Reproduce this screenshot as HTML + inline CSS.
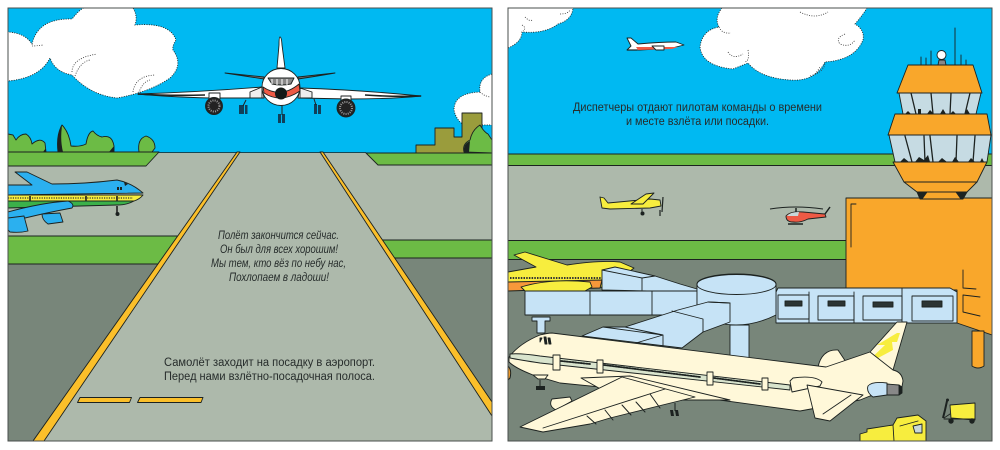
<!DOCTYPE html>
<html lang="ru">
<head>
<meta charset="utf-8">
<title>Аэропорт</title>
<style>
html,body{margin:0;padding:0;background:#fff;width:1000px;height:450px;overflow:hidden}
svg{display:block}
text{font-family:"Liberation Sans",sans-serif;fill:#262c2b}
.o{stroke:#1c2220;stroke-width:.9;stroke-linejoin:round;stroke-linecap:round}
.cl{fill:#fff;stroke:#222;stroke-width:.9;stroke-dasharray:1 1.4}
.d{fill:none;stroke:#333;stroke-width:.8;stroke-dasharray:1 1.4}
.b{fill:#c6e3f6}
.c{fill:#fff8d9}
.or{fill:#f9a72b}
</style>
</head>
<body>
<svg width="1000" height="450" viewBox="0 0 1000 450" xmlns="http://www.w3.org/2000/svg">
<defs>
<clipPath id="L"><rect x="8" y="8" width="484" height="433"/></clipPath>
<clipPath id="R"><rect x="508" y="8" width="484" height="433"/></clipPath>
</defs>

<!-- LEFT PANEL -->
<g clip-path="url(#L)">
<rect x="8" y="8" width="484" height="433" fill="#adb9ab"/>
<rect x="8" y="8" width="484" height="145" fill="#00b9f2"/>
<path class="cl" d="M8,81 L8,32 Q25,33 32,44 Q38,18 72,19 Q80,9 84,8 L133,8 Q138,16 135,25 Q170,22 176,40 Q172,46 173,50 Q184,65 170,78 Q150,92 117,98 Q90,95 72,75 Q55,72 50,58 Q40,78 8,81Z"/>
<path class="d" d="M72,72 Q72,58 97,54 M75,76 Q80,62 90,60 M133,92 Q135,76 155,75 M138,95 Q142,82 150,80 M32,46 Q36,46 43,45"/>
<path class="cl" d="M492,74 Q478,78 480,92 Q454,93 454,110 Q456,120 464,125 L492,125Z"/>
<path class="d" d="M480,92 Q484,96 490,97"/>

<!-- building -->
<path class="o" fill="#9a9c3c" d="M416,153 V145 H435 V128 H454 V137 H462 V113 H482 V153Z"/>

<!-- bushes -->
<path class="o" fill="#6cbb45" d="M8,152 V134 L13,135 L16,140 Q20,134 26,134 Q31,137 32,144 Q40,137 45,143 L46,152Z"/>
<path class="o" fill="#6cbb45" d="M58,152 Q56,135 62,125 Q69,132 71,146 Q80,147 86,144 Q88,132 93,131 Q97,136 102,137 Q112,134 114,146 L114,152Z"/>
<path fill="#1c2220" d="M58,152 Q56,135 62,126 Q60,140 63,152Z M109,152 L114,146 V152Z M43,152 L46,148 V152Z"/>
<path class="o" fill="#6cbb45" d="M139,152 Q137,139 146,136 Q155,139 155,148 L152,152Z"/>
<path class="o" fill="#6cbb45" d="M464,152 Q462,144 470,140 Q472,130 480,125 Q484,132 488,134 L492,140 V153Z"/>
<path fill="#1c2220" d="M464,152 Q463,144 470,141 L469,152Z"/>

<!-- grass -->
<path class="o" fill="#6cbb45" d="M8,152 H159 L146,166 H8Z"/>
<path class="o" fill="#6cbb45" d="M366,153 H492 V165 H378Z"/>
<path class="o" fill="#6cbb45" d="M8,236 H178 L158,264 H8Z"/>
<path class="o" fill="#6cbb45" d="M380,240 H492 V258 H393Z"/>
<path class="o" fill="#78867a" d="M8,264 H159 L33,441 H8Z"/>
<path class="o" fill="#78867a" d="M392,258 H492 V402 Z"/>
<line x1="159" y1="152.5" x2="366" y2="152.5" stroke="#1c2220" stroke-width=".8"/>

<!-- runway lines -->
<path class="o" fill="#fbbf2a" d="M237,152 H240 L44,441 H33Z"/>
<path class="o" fill="#fbbf2a" d="M320,152 H323 L492,402 V416Z"/>
<path class="o" fill="#fbbf2a" d="M80,397.5 H131.5 L129.5,402.5 H77.5Z"/>
<path class="o" fill="#fbbf2a" d="M140,397.5 H203 L201,402.5 H137.5Z"/>

<!-- blue plane -->
<path class="o" fill="#2bb0ef" d="M15,172 L27,172 L52,184 Q85,184 117,180 Q132,183 143,193 L8,195 V185 L32,185Z"/>
<path class="o" fill="#f7ed3e" d="M8,195 H143 Q140,199 134,201 H8Z"/>
<path class="o" fill="#3bb14a" d="M8,201 H134 Q127,205 117,205 L8,208Z"/>
<path d="M8,198 H133" stroke="#333" stroke-width="1.2" stroke-dasharray="1.2 1.2" fill="none"/>
<path d="M30,196V201M86,196V201M117,196V201" stroke="#222" stroke-width="1.6"/>
<path class="o" fill="#2bb0ef" d="M8,212 Q40,203 68,201 Q75,204 72,208 Q50,212 25,218 L8,222Z"/>
<path class="o" fill="#2bb0ef" d="M42,214 L60,213 L63,222 L48,224 Q42,220 42,214Z"/>
<path class="o" fill="#2bb0ef" d="M8,218 L24,216 L28,231 Q20,233 10,232 L8,230Z"/>
<path fill="#1c2220" d="M117,187h2v3h-2zM120,187h2v3h-2zM124,182l4,2-3,2z"/>
<path stroke="#222" stroke-width="1.6" d="M117,206V213"/><circle cx="117.500" cy="214" r="2" fill="#1c2220"/>

<!-- main plane -->
<path class="o" fill="#fff" d="M280,37 Q281.500,37 282,45 L285,68 H277 L279,45 Q279,37 280,37Z"/>
<path class="o" fill="#777" d="M225,73 L264,77 V79 Q245,76 225,73Z M335,73 L298,77 V79 Q318,76 335,73Z"/>
<path class="o" fill="#fff" d="M138,94 Q200,92 262,87 L264,98 L210,98 Q170,97 138,94Z"/>
<path class="o" fill="#fff" d="M421,96 Q360,90 300,88 L298,98 L350,99 Q390,99 421,96Z"/>
<path d="M138,94 Q170,96 205,95 M421,96 Q395,97 365,95" stroke="#1c2220" stroke-width="1.6" fill="none"/>
<path class="o" fill="#eee" d="M250,92 L262,87 V98 H250Z M300,88 L312,92 V98 H300Z"/>
<path class="o" fill="#fff" d="M209,93 H220 V99 H209Z M341,96 H351 V101 H341Z"/>
<circle class="o" cx="214" cy="106" r="8.500" fill="#222"/>
<circle cx="214" cy="106" r="5.500" fill="none" stroke="#999" stroke-width="2" stroke-dasharray="1 1.200"/>
<circle class="o" cx="346" cy="108" r="9" fill="#222"/>
<circle cx="346" cy="108" r="6" fill="none" stroke="#999" stroke-width="2" stroke-dasharray="1 1.200"/>
<path fill="#10405a" d="M239,105h5v9h-5zM245,105h2.500v9h-2.500zM314,104h3v10h-3zM318,105h3v9h-3zM278,114h3v9h-3zM282,114h3v9h-3z"/>
<path d="M246,100L243,106M314,99L316,105M282,105V115" stroke="#222" stroke-width="1" fill="none"/>
<ellipse class="o" cx="281" cy="87" rx="19" ry="18.500" fill="#fff"/>
<path class="o" fill="#ee5a45" d="M263,87 Q281,99 299,84 L300,91 Q281,104 264,93Z"/>
<circle cx="281" cy="93.500" r="6" fill="#141a18"/>
<path class="o" fill="#888" d="M268,78 H294 L291,84 Q281,86 272,84Z"/>
<path d="M272,79V84M277,79V85M282,79V85M287,79V85" stroke="#fff" stroke-width="1"/>

<!-- text -->
<g font-style="italic" font-size="11.500">
<text x="218" y="239" textLength="121" lengthAdjust="spacingAndGlyphs">Полёт закончится сейчас.</text>
<text x="220" y="253" textLength="118" lengthAdjust="spacingAndGlyphs">Он был для всех хорошим!</text>
<text x="211" y="267" textLength="135" lengthAdjust="spacingAndGlyphs">Мы тем, кто вёз по небу нас,</text>
<text x="229" y="281" textLength="100" lengthAdjust="spacingAndGlyphs">Похлопаем в  ладоши!</text>
</g>
<text x="164" y="366" font-size="11.500" textLength="211" lengthAdjust="spacingAndGlyphs">Самолёт заходит на посадку в аэропорт.</text>
<text x="164" y="380" font-size="11.500" textLength="211" lengthAdjust="spacingAndGlyphs">Перед нами взлётно-посадочная полоса.</text>
</g>
<rect x="8" y="8" width="484" height="433" fill="none" stroke="#4a4f4e" stroke-width="1"/>

<!-- RIGHT PANEL -->
<g clip-path="url(#R)">
<rect x="508" y="8" width="484" height="433" fill="#adb9ab"/>
<rect x="508" y="8" width="484" height="146" fill="#00b9f2"/>
<rect class="o" x="508" y="154" width="484" height="11.500" fill="#6cbb45"/>
<rect class="o" x="508" y="240.500" width="340" height="19" fill="#6cbb45"/>
<rect x="508" y="260" width="484" height="181" fill="#78867a"/>
<path d="M508,259.500H848" stroke="#1c2220" stroke-width=".9"/>

<path class="cl" d="M508,48 Q522,42 522,32 Q545,34 558,24 Q572,20 573,8 L508,8Z"/>
<path class="d" d="M525,17 Q530,22 532,20 M522,25 Q527,28 523,31 M560,14 Q568,14 570,10"/>
<path class="cl" d="M722,8 Q714,18 719,27 Q702,30 700,47 Q702,66 733,69 L748,63 Q760,78 790,80 Q815,82 825,62 Q855,60 863,40 Q865,30 855,24 Q862,16 867,8Z"/>
<path class="d" d="M719,27 Q722,34 731,33 M728,52 Q733,60 743,54 M748,50 Q750,62 744,62 M810,76 Q825,72 825,62 M815,74 Q820,68 820,66 M845,34 Q835,38 840,44 Q850,48 855,40 M800,12 Q815,20 828,12"/>

<!-- small jet -->
<path class="o" fill="#fff" d="M627,38 L631,38 L638,44 Q660,42 676,42 L684,45 L672,48 L640,50 L627,50 L631,46Z"/>
<path fill="#ee5a45" d="M636,47 L678,47 L672,49 L638,50Z"/>
<path class="o" fill="#fff" d="M652,46 L664,46 L664,50 L656,50Z"/>
<path d="M627,50H637" stroke="#1c2220" stroke-width="1.2"/>

<!-- text -->
<text x="573" y="111" font-size="11.500" textLength="249" lengthAdjust="spacingAndGlyphs">Диспетчеры отдают пилотам команды о времени</text>
<text x="626" y="125" font-size="11.500" textLength="143" lengthAdjust="spacingAndGlyphs">и месте взлёта или посадки.</text>

<!-- yellow light plane -->
<path class="o" fill="#f7ed3e" d="M600,197 L604,198 L608,203 Q630,201 650,199 L660,200 L661,206 L650,208 L610,209 L602,208Z"/>
<path class="o" fill="#f7ed3e" d="M631,204 L646,194 L654,193 L643,204Z"/>
<path d="M663,197 L662,212 M660,210V216" stroke="#1c2220" stroke-width="1.2" fill="none"/>
<path d="M642,209V212" stroke="#1c2220"/><circle cx="642.500" cy="213.500" r="2" fill="#1c2220"/>

<!-- helicopter -->
<path d="M770,209 Q795,205 823,209" stroke="#1c2220" stroke-width="1.100" fill="none"/>
<path d="M796,208V212M825,214L830,207" stroke="#1c2220" stroke-width="1.500"/>
<path class="o" fill="#ee5a45" d="M786,216 Q790,211 803,212 L825,214 L826,217 L808,219 Q800,223 793,222 Q786,222 786,216Z"/>
<path fill="#c8d8d8" d="M787,216 Q790,212 799,212 L798,216Z"/>
<path d="M788,224H803" stroke="#1c2220" stroke-width="1.500"/>

<!-- yellow parked plane -->
<path class="o" fill="#f7ed3e" d="M514,255 L525,252 L567,265 Q600,260 620,262 L634,268 L610,287 L508,290 V272 L536,267Z"/>
<path class="o" fill="#f7983a" d="M508,282 L602,280 L600,288 L508,291Z"/>
<path d="M510,278 H602" stroke="#333" stroke-width="2" stroke-dasharray="1.500 1.200"/>
<path class="o" fill="#f7ed3e" d="M521,287 Q550,278 590,282 L592,287 L585,291 H525Z"/>

<!-- tower -->
<g class="o">
<path class="or" d="M846,198 H992 V335 L957,323 V290 H846Z"/>
<path d="M851,204V247M851,204H856M963,270V288L976,289M963,295L980,297M963,295V312L980,316" fill="none"/>
<path fill="#c6dbe3" d="M899,93 H981 L976,114 H903Z"/>
<path fill="#c6dbe3" d="M889,135 H991 L987,162 H895Z"/>
<path d="M911,93L916,114M931,93L933,114M951,93L950,114M970,93L965,114M905,136L912,162M930,136L933,162M957,136L956,162M975,136L973,162M924,136L925,162" fill="none" stroke="#1c2220" stroke-width="1.300"/>
<path class="or" d="M908,65 H973 L982,93 H897Z"/>
<path class="or" d="M895,114 H987 L991,135 H888Z"/>
<path class="or" d="M893,162 H987 L977,182 H904Z"/>
<path class="or" d="M904,182 H977 L967,192 H917Z"/>
<path fill="#1c2220" d="M917,192 H967 L963,199 H920Z"/>
<path class="or" d="M927,192 H956 L961,199 H922Z"/>
<path fill="none" d="M921,65V57M926,65V58M931,65V51M955,65V28M961,65V55M966,65V60"/>
<path fill="#888" d="M938,65 L939,60 H945 L946,65Z"/>
<circle cx="941.500" cy="55" r="4.500" fill="#fff"/>
</g>
<path fill="#1c2220" d="M905,114l3-3 3,3zM918,114v-5h3v5zM927,114l3-4 4,4zM940,114l3-5 3,5zM950,114l3-3 3,3zM965,114l2-5 3,5zM900,162l4-4 5,4zM915,162l4-5 5,3 4-5 2,7zM938,162l4-4 5,4zM952,162l3-5 4,5zM968,162l3-4 4,4zM980,162l2-4 2,4z"/>
<!-- orange column -->
<path class="o or" d="M972,331 H984 V366 Q978,370 972,366Z"/>

<!-- hub/jetways -->
<g class="o">
<rect class="b" x="730" y="325" width="19" height="35"/>
<path class="b" d="M776,292 L778,288 H950 L957,292 V323 H776Z"/>
<rect class="b" x="778" y="295" width="31" height="24"/>
<rect class="b" x="818" y="296" width="36" height="24"/>
<rect class="b" x="863" y="296" width="39" height="24"/>
<rect class="b" x="912" y="296" width="41" height="25"/>
<path fill="#2c3433" d="M785,301h17v5h-17zM828,301h17v5h-17zM873,302h20v5h-20zM922,301h20v6h-20z"/>
<path fill="none" d="M809,292V323M854,292V323M902,288V323"/>
<path class="b" d="M602,270 L615,267 L655,276 L680,284 L697,289 V292 L602,290Z"/>
<path fill="none" d="M602,270 L642,278 V290 M642,278 L655,276"/>
<path class="b" d="M525,291 H697 V315 H525Z"/>
<path fill="none" d="M590,291V315M652,291V315"/>
<path class="b" d="M532,317 H550 V321 H545 V333 H537 V321 H532Z"/>
<path class="b" d="M697,284 A39.500,10 0 0 1 776,284 V315 Q736,335 697,315Z"/>
<ellipse class="b" cx="736.500" cy="284.500" rx="39.500" ry="10"/>
<path class="b" d="M730,303 L708,302 L678,310 L625,327 L603,327 L582,336 L682,348 L703,332 L730,322Z"/>
<path fill="none" d="M708,302 L730,303 M672,311 L703,319 V332 M625,327 L663,335 V348 M603,327 L663,335 M636,343 L663,335"/>
</g>

<!-- airliner -->
<g class="o">
<path class="c" d="M818,367 Q822,349 838,350 L850,368Z"/>
<path class="c" d="M897,322 H907 L893,370 H873 L870,352Z"/>
<path fill="#f7ed3e" d="M897,333 L900,333 L897,342 H892 L893,350 L863,366 L885,345 H877Z" stroke="none"/>
<path class="c" d="M509,357 Q520,343 540,335 Q548,333 552,333 L826,367 L870,352 L893,370 Q902,372 903,381 L901,392 L870,396 L860,400 L800,411 L690,396 L560,383 L533,375 Q515,368 509,362Z"/>
<path fill="#d9e4cd" d="M510,354 Q520,353 540,356 L790,385 L790,390 L540,363 Q520,360 510,358Z"/>
<path fill="none" stroke-width="1.800" stroke-dasharray="1.500 1.300" d="M561,361 L590,364 M604,365 L700,377 M714,378 L760,384"/>
<path class="c" d="M553,355 H560 V370 H553Z M597,360 H603 V373 H597Z M707,372 H713 V385 H707Z M762,378 H768 V390 H762Z"/>
<path class="c" d="M790,381 L793,378 Q815,375 822,382 L820,386 L792,392 Z"/>
<path fill="#1c2220" d="M544,337l2 0 1,7-2,0zM548,338l2 0 1,6-2,0zM540,338l2 0-2,4z"/>
<path class="b" d="M868,386 Q872,381 887,383 L887,395 L873,397 Q866,392 868,386Z"/>
<path fill="#888" d="M887,384 L899,385 L902,390 L899,395 L887,395Z"/>
<path fill="#1c2220" d="M899,385 L902,387 V393 L899,395Z"/>
<path class="c" d="M807,385 L863,395 L830,421 L815,418Z"/>
<path fill="none" d="M823,414 L851,395"/>
<path class="c" d="M581,378 L630,376 L730,400 L620,400 Z"/>
<path class="c" d="M552,399 L570,397 L572,401 L556,410 Q548,406 552,399Z"/>
<path class="c" d="M622,377 L695,397 L610,418 L590,424 L543,432 L520,427Z"/>
<path fill="none" d="M543,428 L665,389"/>
<path fill="none" stroke-width="1" d="M587,416 L596,424 M605,410 L613,420 M622,405 L631,415 M636,402 L645,412 M650,394 L660,408"/>
<path class="c" d="M533,375 H548 L545,379 H538Z"/>
</g>
<path d="M540,380V388M675,403V411" stroke="#1c2220" stroke-width="1"/>
<path fill="#1c2220" d="M536,386h9v4h-9zM670,410h3l1,6h-3zM675,410h3l1,6h-3z"/>
<path d="M508,366 Q512,370 510,378 L508,380Z" fill="#f09a2a" stroke="#1c2220"/>

<!-- truck and cart -->
<g class="o">
<path fill="#f7ed3e" d="M860,441 V434 L867,432 V429 L893,425 L897,418 L918,415 L926,421 V441Z"/>
<path fill="#c8d8d8" d="M913,426 L922,424 V433 H915Z"/>
<path fill="none" d="M893,425 L894,441 M900,426 L918,421"/>
<path fill="#f7ed3e" d="M950,405 L975,403 V420 L951,418 Z"/>
<path fill="none" d="M944,418 L950,414 M944,419 H975"/>
</g>
<circle cx="951" cy="421" r="2.700" fill="#1c2220"/>
<circle cx="972" cy="421" r="2.700" fill="#1c2220"/>
<path d="M947,401 L945,410 L943,418" stroke="#1c2220" stroke-width="2" fill="none"/>
<circle cx="947.500" cy="400" r="1.500" fill="#1c2220"/>
</g>
<rect x="508" y="8" width="484" height="433" fill="none" stroke="#4a4f4e" stroke-width="1"/>
</svg>
</body>
</html>
